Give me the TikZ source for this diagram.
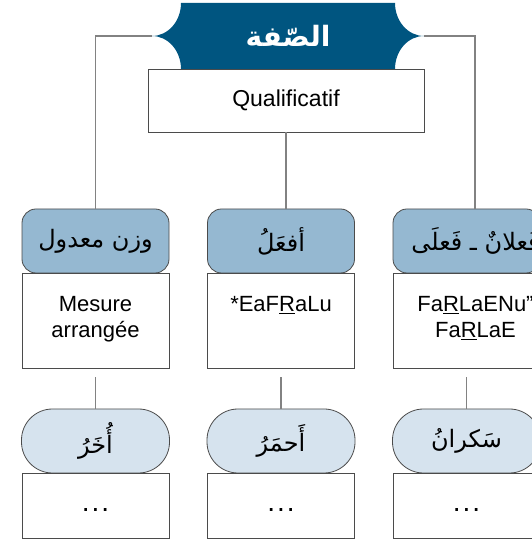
\documentclass[tikz,border=0pt]{standalone}
\usepackage{fontspec}
\setmainfont{Liberation Sans}
\newfontfamily\arabicfont[Script=Arabic]{DejaVu Sans}
\TeXXeTstate=1
\usetikzlibrary{positioning}
\definecolor{titleblue}{RGB}{0,85,128}
\definecolor{midblue}{RGB}{149,184,209}
\definecolor{paleblue}{RGB}{214,227,238}
\definecolor{boxline}{RGB}{75,75,75}
\definecolor{linkgrey}{RGB}{130,130,130}
\newcommand{\artext}[1]{{\arabicfont\beginR #1\endR}}

\begin{document}
\begin{tikzpicture}[x=1pt,y=1pt,
	pattern/.style={draw=boxline, line width=0.8pt, fill=midblue, rounded corners=14pt, minimum width=147pt, minimum height=64pt, inner sep=0pt},
	example/.style={draw=boxline, line width=0.8pt, fill=paleblue, rounded corners=31pt, minimum width=148pt, minimum height=64pt, inner sep=0pt},
	note/.style={draw=boxline, line width=0.8pt, fill=white, minimum width=147pt, inner sep=0pt, font=\fontsize{22}{26}\selectfont},
	artxt/.style={font=\fontsize{24}{28}\selectfont, inner sep=0pt},
	txt/.style={font=\fontsize{22}{26}\selectfont, align=center, inner sep=0pt},
	link/.style={draw=linkgrey, line width=1.5pt}]
		\useasboundingbox (0,0) rectangle (532,541);
		\clip (0,0) rectangle (532,541);

		\fill[titleblue] (181,538) -- (395,538) .. controls (395,519.8) and (408,505) .. (424,505) .. controls (408,505) and (395,490.2) .. (395,472) -- (181,472) .. controls (181,490.2) and (168,505) .. (152,505) .. controls (168,505) and (181,519.8) .. (181,538) -- cycle;
		\node[font=\fontsize{28}{32}\selectfont\bfseries, text=white, inner sep=0pt] (title) at (288,505) {\artext{الصّفة}};
		\coordinate (banL) at (152,505);
		\coordinate (banR) at (424,505);
		\coordinate (kR) at (475,505);

		\node[draw=boxline, line width=0.8pt, fill=white, minimum width=276pt, minimum height=63pt, font=\fontsize{23}{27}\selectfont] (qual) at (286,440.5) {Qualificatif};

		\node[note, minimum height=95pt] (n1) at (95.5,220.5) {};
		\node[note, minimum height=95pt] (n2) at (281,220.5) {};
		\node[note, minimum height=95pt] (n3) at (466.5,220.5) {};
		\node[txt, anchor=north] (m1) at ([yshift=-24pt]n1.north) {Mesure\\arrangée};
		\node[txt, anchor=north] (m2) at ([yshift=-24pt]n2.north) {*EaF\underline{R}aLu};
		\node[txt, anchor=north] (m3) at ([xshift=9pt,yshift=-24pt]n3.north) {Fa\underline{R}LaENu”\\Fa\underline{R}LaE};

		\node[pattern] (p1) at (95.5,300) {};
		\node[pattern] (p2) at (281,300) {};
		\node[pattern] (p3) at (466.5,300) {};
		\node[artxt] (w1) at (p1) {\artext{وزن معدول}};
		\node[artxt] (w2) at (p2) {\artext{أفعَلُ}};
		\node[artxt] (w3) at ([xshift=9pt]p3.center) {\artext{فَعلانٌ ـ فَعلَى}};

		\node[example, font=\fontsize{24}{28}\selectfont] (e1) at (95.5,100) {\artext{أُخَرُ}};
		\node[example, font=\fontsize{24}{28}\selectfont] (e2) at (281,100) {\artext{أَحمَرُ}};
		\node[example, font=\fontsize{24}{28}\selectfont] (e3) at (466.5,100) {\artext{سَكرانُ}};

		\node[note, minimum height=65pt, font=\fontsize{28}{30}\selectfont] (d1) at (95.5,35.5) {\strut.\kern2pt.\kern2pt.};
		\node[note, minimum height=65pt, font=\fontsize{28}{30}\selectfont] (d2) at (281,35.5) {\strut.\kern2pt.\kern2pt.};
		\node[note, minimum height=65pt, font=\fontsize{28}{30}\selectfont] (d3) at (466.5,35.5) {\strut.\kern2pt.\kern2pt.};

		\draw[link] (banL) -| (p1.north);
		\draw[link] (qual.south) -- (qual.south |- p2.north);
		\draw[link] (banR) -- (kR) -- (kR |- p3.north);
		\foreach \i in {1,2,3}
			\draw[link, shorten <=9pt] (n\i.south) -- (e\i.north);
	\end{tikzpicture}
\end{document}
